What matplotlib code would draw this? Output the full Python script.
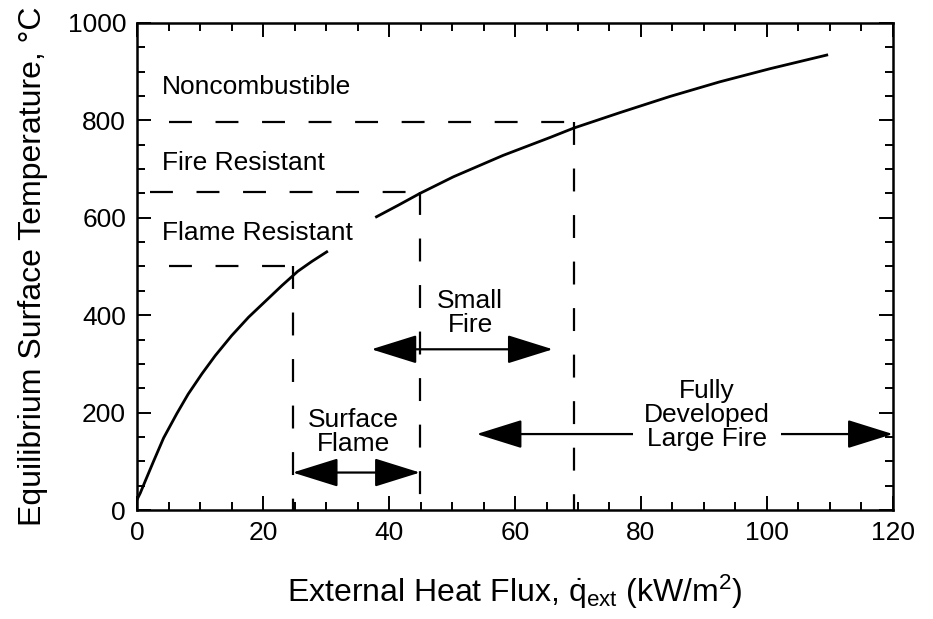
import matplotlib
matplotlib.use("Agg")
import matplotlib.pyplot as plt
from matplotlib.ticker import MultipleLocator
from matplotlib.patches import ArrowStyle

plt.rcParams['font.family'] = ['Liberation Sans', 'DejaVu Sans']
plt.rcParams['mathtext.fontset'] = 'custom'
plt.rcParams['mathtext.rm'] = 'Liberation Sans'
plt.rcParams['mathtext.it'] = 'Liberation Sans'
plt.rcParams['lines.scale_dashes'] = False

# --- datos ---
# curva de temperatura superficial de equilibrio (dos tramos, hueco junto al texto)
flujo_bajo = [0, 0.5, 1.3, 2.6, 4.2, 6.3, 8.1, 10.3, 12.4, 15.0, 17.7, 20.8,
              23.0, 25.5, 27.7, 30.1]
temp_bajo = [22, 35, 60, 100, 148, 198, 238, 280, 317, 358, 396, 434,
             461, 490, 510, 530]
flujo_alto = [38.0, 41.5, 44.9, 50.2, 58.1, 65.6, 69.3, 76.7, 84.6, 92.5,
              100.5, 105, 109.5]
temp_alto = [602, 626, 650, 684, 728, 765, 784, 816, 849, 879,
             906, 920, 934]

# niveles de clasificacion (lineas horizontales de trazos)
niveles = [797, 653, 502]
niveles_inicio = [5, 2, 5]
niveles_fin = [69.3, 44.9, 24.7]
nombres_niveles = ["Noncombustible", "Fire Resistant", "Flame Resistant"]
nombres_y = [868, 712, 568]

# regimenes de fuego (flechas)
regimen_nombres = ["Surface\nFlame", "Small\nFire", "Fully\nDeveloped\nLarge Fire"]
regimen_x = [34.4, 52.9, 90.5]
regimen_y = [160, 405, 195]
flecha_desde = [24.7, 37.2, 53.9]
flecha_hasta = [44.9, 66, 120]
flecha_y = [77, 330, 156]

fig = plt.figure(figsize=(9.33, 6.19), dpi=100)
ax = fig.add_axes([0.147, 0.176, 0.81, 0.787])

negro = 'black'
ax.plot(flujo_bajo, temp_bajo, color=negro, lw=2)
ax.plot(flujo_alto, temp_alto, color=negro, lw=2)

trazos = (16.5, 17)
for y, x0, x1 in zip(niveles, niveles_inicio, niveles_fin):
    ax.plot([x0, x1], [y, y], color=negro, lw=1.6, dashes=trazos)
    ax.plot([x1, x1], [y, 0], color=negro, lw=1.6, dashes=trazos)

for nombre, y in zip(nombres_niveles, nombres_y):
    ax.text(4, y, nombre, fontsize=19, va='center', ha='left')

estilo = ArrowStyle('<|-|>', head_length=1.6, head_width=0.5)
for x0, x1, y in zip(flecha_desde, flecha_hasta, flecha_y):
    ax.annotate('', xy=(x1, y), xytext=(x0, y),
                arrowprops=dict(arrowstyle=estilo, mutation_scale=18,
                                color=negro, lw=1.6, shrinkA=0, shrinkB=0))

for i, (nombre, x, y) in enumerate(zip(regimen_nombres, regimen_x, regimen_y)):
    caja = None
    if i == 2:
        caja = dict(facecolor='white', edgecolor='none', pad=8)
    ax.text(x, y, nombre, fontsize=19, ha='center', va='center',
            linespacing=1.0, bbox=caja, zorder=5)

ax.set_xlim(0, 120)
ax.set_ylim(0, 1000)
ax.xaxis.set_major_locator(MultipleLocator(20))
ax.xaxis.set_minor_locator(MultipleLocator(5))
ax.yaxis.set_major_locator(MultipleLocator(200))
ax.yaxis.set_minor_locator(MultipleLocator(50))
ax.tick_params(which='both', direction='in', top=True, right=True,
               labelsize=19, width=1.4, pad=8)
ax.tick_params(which='major', length=10)
ax.tick_params(which='minor', length=6)
for s in ax.spines.values():
    s.set_linewidth(1.8)

ax.set_xlabel(r'External Heat Flux, $\dot{\mathrm{q}}_{\mathrm{ext}}$ (kW/m$^{2}$)',
              fontsize=23, labelpad=20)
ax.set_ylabel('Equilibrium Surface Temperature, °C', fontsize=23, labelpad=14)

fig.savefig('out.png', dpi=100)
